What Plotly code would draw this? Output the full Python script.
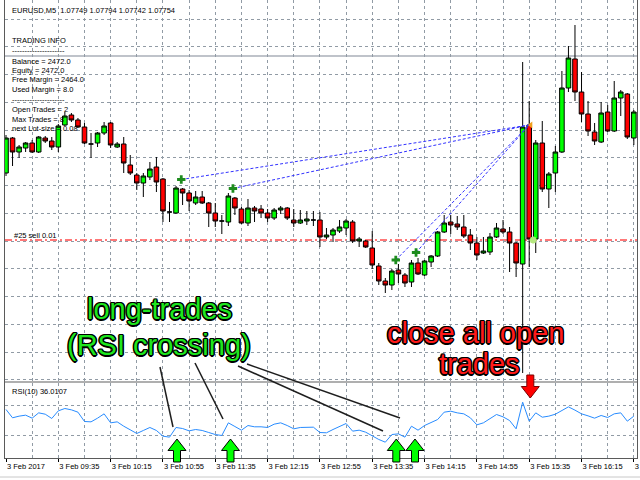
import plotly.graph_objects as go

# ---------------- data ----------------
time_labels = ["3 Feb 2017", "3 Feb 09:35", "3 Feb 10:15", "3 Feb 10:55", "3 Feb 11:35",
               "3 Feb 12:15", "3 Feb 12:55", "3 Feb 13:35", "3 Feb 14:15", "3 Feb 14:55",
               "3 Feb 15:35", "3 Feb 16:15", "3 Feb 16:55"]
label_bars = [0, 8, 16, 24, 32, 40, 48, 56, 64, 72, 80, 88, 96]

opens = [1.07654, 1.07724, 1.07696, 1.07704, 1.07714, 1.07696, 1.07724, 1.07718, 1.07706, 1.07750,
         1.07770, 1.07760, 1.07746, 1.07712, 1.07714, 1.07734, 1.07754, 1.07706, 1.07712, 1.07670,
         1.07650, 1.07634, 1.07646, 1.07666, 1.07642, 1.07576, 1.07574, 1.07622, 1.07614, 1.07594,
         1.07606, 1.07594, 1.07574, 1.07558, 1.07556, 1.07604, 1.07582, 1.07554, 1.07584, 1.07582,
         1.07574, 1.07564, 1.07580, 1.07584, 1.07560, 1.07554, 1.07558, 1.07560, 1.07560, 1.07526,
         1.07530, 1.07538, 1.07544, 1.07556, 1.07518, 1.07518, 1.07504, 1.07468, 1.07438, 1.07430,
         1.07460, 1.07450, 1.07436, 1.07474, 1.07450, 1.07476, 1.07488, 1.07536, 1.07556, 1.07552,
         1.07546, 1.07530, 1.07514, 1.07494, 1.07496, 1.07526, 1.07542, 1.07536, 1.07514, 1.07472,
         1.07750, 1.07522, 1.07714, 1.07622, 1.07654, 1.07696, 1.07824, 1.07882, 1.07816, 1.07772,
         1.07736, 1.07716, 1.07776, 1.07738, 1.07804, 1.07812, 1.07724]
highs = [1.07730, 1.07726, 1.07710, 1.07716, 1.07720, 1.07728, 1.07728, 1.07726, 1.07752, 1.07776,
         1.07774, 1.07764, 1.07754, 1.07734, 1.07736, 1.07756, 1.07756, 1.07716, 1.07726, 1.07690,
         1.07654, 1.07654, 1.07676, 1.07686, 1.07644, 1.07596, 1.07628, 1.07624, 1.07620, 1.07618,
         1.07618, 1.07596, 1.07594, 1.07570, 1.07614, 1.07606, 1.07586, 1.07602, 1.07588, 1.07590,
         1.07582, 1.07584, 1.07588, 1.07586, 1.07582, 1.07580, 1.07578, 1.07578, 1.07576, 1.07544,
         1.07544, 1.07560, 1.07562, 1.07560, 1.07526, 1.07520, 1.07538, 1.07474, 1.07444, 1.07462,
         1.07472, 1.07454, 1.07480, 1.07484, 1.07480, 1.07490, 1.07538, 1.07570, 1.07570, 1.07568,
         1.07570, 1.07542, 1.07526, 1.07526, 1.07534, 1.07554, 1.07560, 1.07546, 1.07516, 1.07876,
         1.07798, 1.07720, 1.07758, 1.07656, 1.07708, 1.07858, 1.07908, 1.07950, 1.07856, 1.07798,
         1.07754, 1.07796, 1.07790, 1.07838, 1.07820, 1.07814, 1.07780]
lows = [1.07648, 1.07668, 1.07684, 1.07696, 1.07694, 1.07694, 1.07714, 1.07700, 1.07696, 1.07748,
        1.07756, 1.07744, 1.07712, 1.07684, 1.07706, 1.07730, 1.07704, 1.07704, 1.07654, 1.07650,
        1.07620, 1.07606, 1.07640, 1.07616, 1.07556, 1.07556, 1.07572, 1.07590, 1.07578, 1.07590,
        1.07592, 1.07546, 1.07546, 1.07532, 1.07548, 1.07570, 1.07552, 1.07548, 1.07556, 1.07564,
        1.07556, 1.07560, 1.07572, 1.07560, 1.07546, 1.07552, 1.07550, 1.07548, 1.07506, 1.07522,
        1.07516, 1.07534, 1.07530, 1.07514, 1.07506, 1.07504, 1.07462, 1.07430, 1.07414, 1.07420,
        1.07434, 1.07426, 1.07426, 1.07450, 1.07448, 1.07466, 1.07486, 1.07534, 1.07532, 1.07540,
        1.07524, 1.07500, 1.07480, 1.07492, 1.07490, 1.07524, 1.07532, 1.07456, 1.07446, 1.07254,
        1.07466, 1.07494, 1.07616, 1.07584, 1.07616, 1.07694, 1.07816, 1.07798, 1.07756, 1.07728,
        1.07710, 1.07714, 1.07736, 1.07736, 1.07768, 1.07722, 1.07710]
closes = [1.07724, 1.07696, 1.07706, 1.07714, 1.07696, 1.07726, 1.07718, 1.07706, 1.07748, 1.07768,
          1.07760, 1.07746, 1.07714, 1.07712, 1.07734, 1.07748, 1.07710, 1.07712, 1.07674, 1.07654,
          1.07634, 1.07648, 1.07662, 1.07636, 1.07578, 1.07576, 1.07624, 1.07614, 1.07598, 1.07606,
          1.07594, 1.07574, 1.07558, 1.07558, 1.07608, 1.07584, 1.07554, 1.07584, 1.07578, 1.07574,
          1.07564, 1.07580, 1.07584, 1.07564, 1.07554, 1.07560, 1.07562, 1.07560, 1.07526, 1.07530,
          1.07540, 1.07546, 1.07558, 1.07518, 1.07522, 1.07506, 1.07470, 1.07438, 1.07430, 1.07458,
          1.07452, 1.07434, 1.07474, 1.07452, 1.07478, 1.07488, 1.07536, 1.07554, 1.07550, 1.07546,
          1.07528, 1.07514, 1.07490, 1.07498, 1.07526, 1.07544, 1.07536, 1.07514, 1.07474, 1.07746,
          1.07522, 1.07714, 1.07622, 1.07652, 1.07696, 1.07824, 1.07884, 1.07816, 1.07772, 1.07738,
          1.07718, 1.07774, 1.07738, 1.07804, 1.07816, 1.07726, 1.07776]
rsi = [64.7, 53.6, 55.8, 57.1, 53.1, 60.2, 58.4, 52.7, 62.9, 66.0,
       64.2, 61.1, 48.7, 48.2, 53.1, 58.9, 46.9, 48.2, 42.4, 38.0,
       32.7, 36.7, 40.7, 36.7, 29.1, 27.8, 40.7, 39.3, 36.2, 38.0,
       36.7, 34.0, 31.3, 30.0, 46.9, 42.0, 37.1, 43.3, 41.6, 41.6,
       40.7, 45.1, 46.9, 43.3, 38.9, 40.7, 41.1, 41.1, 34.0, 33.6,
       38.0, 41.6, 46.0, 35.8, 37.1, 34.4, 29.1, 24.7, 21.1, 31.3,
       32.2, 27.8, 42.4, 37.1, 43.3, 46.9, 51.3, 61.1, 62.4, 60.2,
       58.9, 53.6, 44.2, 46.9, 52.2, 58.0, 54.9, 50.0, 38.9, 74.4,
       49.1, 60.2, 54.4, 55.8, 58.4, 62.9, 68.2, 63.8, 58.9, 56.2,
       53.1, 56.7, 54.0, 58.9, 60.2, 49.1, 55.8]
bar_index = list(range(len(opens)))

# trades: buy entries (bar, price) and common close point
buy_bars = [26.8, 34.7, 59.6, 62.7]
buy_prices = [1.07641, 1.07623, 1.07480, 1.07495]
close_bar = 80.0
close_price = 1.07750
sell_price = 1.07520
sell_mark_bar = 80.6
bid_price = 1.07888

info_lines = ["EURUSD,M5  1.07749 1.07794 1.07742 1.07754", "TRADING INFO", "-" * 21,
              "Balance = 2472.0", "Equity = 2472.0", "Free Margin = 2464.0", "Used Margin = 8.0",
              "-" * 21, "Open Trades = 2", "Max Trades = 8", "next Lot-size = 0.08"]
info_y = [10, 40.5, 50.5, 61, 70.5, 80, 89.5, 99.5, 109.5, 119, 128.5]

# ---------------- layout helpers ----------------
W, H = 640, 480
ML, MR, MT, MB = 5, 3, 0, 22
PW = W - ML - MR
PH = H - MT - MB


def fx(px):
    return (px - ML) / PW


def fy(py):
    return (PH + MT - py) / PH


FONT = "Liberation Sans"
GRID = "rgb(145,155,165)"
outline = ("1.5px 0 0 #000, -1.5px 0 0 #000, 0 1.5px 0 #000, 0 -1.5px 0 #000, "
           "1px 1px 0 #000, -1px -1px 0 #000, 1px -1px 0 #000, -1px 1px 0 #000")

fig = go.Figure()

fig.add_trace(go.Candlestick(
    x=bar_index, open=opens, high=highs, low=lows, close=closes,
    increasing=dict(fillcolor="#00FF00", line=dict(color="black", width=1)),
    decreasing=dict(fillcolor="#FF0000", line=dict(color="black", width=1)),
    whiskerwidth=0, xaxis="x", yaxis="y", showlegend=False, hoverinfo="skip"))

for b, p in zip(buy_bars, buy_prices):
    fig.add_trace(go.Scatter(x=[b, close_bar], y=[p, close_price], mode="lines",
                             line=dict(color="rgb(50,50,255)", width=1, dash="3px,2px"),
                             xaxis="x", yaxis="y", showlegend=False, hoverinfo="skip"))

fig.add_trace(go.Scatter(x=buy_bars, y=buy_prices, mode="markers",
                         marker=dict(symbol="cross", size=7, color="rgb(30,140,30)"),
                         xaxis="x", yaxis="y", showlegend=False, hoverinfo="skip"))
fig.add_trace(go.Scatter(x=[close_bar + 0.25], y=[close_price], mode="markers",
                         marker=dict(symbol="triangle-left", size=6, color="rgb(240,160,30)"),
                         xaxis="x", yaxis="y", showlegend=False, hoverinfo="skip"))
fig.add_trace(go.Scatter(x=[sell_mark_bar], y=[sell_price], mode="markers",
                         marker=dict(symbol="asterisk-open", size=6,
                                     line=dict(color="red", width=2)),
                         xaxis="x", yaxis="y", showlegend=False, hoverinfo="skip"))

fig.add_trace(go.Scatter(x=bar_index, y=rsi, mode="lines",
                         line=dict(color="rgb(40,140,255)", width=1),
                         xaxis="x2", yaxis="y2", showlegend=False, hoverinfo="skip"))

xr = [(ML + 0 - 6) / 6.54, (ML + PW - 6) / 6.54]

common_x = dict(range=xr, showgrid=True, gridcolor=GRID, griddash="3px,3px", gridwidth=1,
                zeroline=False, showline=True, linecolor="rgb(90,90,90)", linewidth=1,
                mirror=True, fixedrange=True, automargin=False)

fig.update_layout(
    width=W, height=H, margin=dict(l=ML, r=MR, t=MT, b=MB, autoexpand=False),
    paper_bgcolor="white", plot_bgcolor="white",
    boxgap=0.3, boxgroupgap=0,
    font=dict(family=FONT, size=8, color="black"),
    xaxis=dict(**common_x, anchor="y", tickmode="linear", tick0=0, dtick=4,
               showticklabels=False, ticks="", rangeslider=dict(visible=False)),
    yaxis=dict(domain=[fy(381), 1], range=[1.07238, 1.08000], tickmode="linear",
               tick0=1.07518, dtick=0.000555, showticklabels=False, ticks="",
               showgrid=True, gridcolor=GRID, griddash="3px,3px", zeroline=False,
               showline=True, linecolor="rgb(90,90,90)", mirror=True, fixedrange=True,
               automargin=False),
    xaxis2=dict(**common_x, anchor="y2", tickmode="array", tickvals=label_bars,
                ticktext=time_labels, ticks="outside", ticklen=3, tickcolor="black",
                ticklabelposition="outside right", ticklabeloverflow="allow",
                ticklabelstandoff=1,
                tickfont=dict(family=FONT, size=7.5, color="black"),
                minor=dict(tickmode="linear", tick0=0, dtick=4, showgrid=True,
                           gridcolor=GRID, griddash="3px,3px", ticks="")),
    yaxis2=dict(domain=[0, fy(383)], range=[0, 100], tickvals=[30, 70],
                showticklabels=False, ticks="", showgrid=True, gridcolor=GRID,
                griddash="3px,3px", zeroline=False, showline=True,
                linecolor="rgb(90,90,90)", mirror=True, fixedrange=True,
                automargin=False),
)

shapes = []
# panel separator band
shapes.append(dict(type="rect", xref="paper", yref="paper", x0=fx(ML), x1=fx(ML + PW),
                   y0=fy(383), y1=fy(381), fillcolor="rgb(175,175,175)",
                   line=dict(width=0), layer="above"))
# window bottom line
shapes.append(dict(type="line", xref="paper", yref="paper", x0=fx(0), x1=fx(640),
                   y0=fy(477), y1=fy(477), line=dict(color="rgb(200,200,200)", width=1)))
# bid line and sell order line
shapes.append(dict(type="line", xref="paper", yref="y", x0=0, x1=1, y0=bid_price, y1=bid_price,
                   line=dict(color="rgb(170,175,185)", width=1.5), layer="below"))
shapes.append(dict(type="line", xref="paper", yref="y", x0=0, x1=1, y0=sell_price, y1=sell_price,
                   line=dict(color="rgb(255,120,120)", width=2, dash="7px,3px,2px,3px"),
                   layer="below"))
# pointer lines from the label to the RSI crossings
pointers = [((160, 367), (173, 427)), ((195, 363), (223, 419)),
            ((238, 366), (383, 431)), ((247, 364), (400, 418))]
for (a, b) in pointers:
    shapes.append(dict(type="line", xref="paper", yref="paper", x0=fx(a[0]), y0=fy(a[1]),
                       x1=fx(b[0]), y1=fy(b[1]), line=dict(color="rgb(30,30,30)", width=1.5),
                       layer="above"))


def arrow_path(cx, tip, tail, up=True):
    s = 1 if up else -1
    hw, sw, hh = 9, 3.5, 11.5
    pts = [(cx, tip), (cx + hw, tip + s * hh), (cx + sw, tip + s * hh), (cx + sw, tail),
           (cx - sw, tail), (cx - sw, tip + s * hh), (cx - hw, tip + s * hh)]
    return "M " + " L ".join(f"{fx(x):.5f},{fy(y):.5f}" for x, y in pts) + " Z"


for cx in [177, 230.5, 396.3, 415]:
    shapes.append(dict(type="path", xref="paper", yref="paper", path=arrow_path(cx, 439, 462),
                       fillcolor="#00FF00", line=dict(color="black", width=1), layer="above"))
shapes.append(dict(type="path", xref="paper", yref="paper",
                   path=arrow_path(530.3, 398, 375, up=False),
                   fillcolor="#FF0000", line=dict(color="rgb(120,0,0)", width=1), layer="above"))
fig.update_layout(shapes=shapes)

ann = []
for t, yy in zip(info_lines, info_y):
    ann.append(dict(text=t, xref="paper", yref="paper", x=fx(10), y=fy(yy), xanchor="left",
                    yanchor="middle", showarrow=False, font=dict(family=FONT, size=7.5, color="black")))
ann.append(dict(text="#25 sell 0.01", xref="paper", yref="paper", x=fx(11.5), y=fy(235.5),
                xanchor="left", yanchor="middle", showarrow=False,
                font=dict(family=FONT, size=7.5, color="black")))
ann.append(dict(text="RSI(10) 36.0107", xref="paper", yref="paper", x=fx(9.5), y=fy(391.5),
                xanchor="left", yanchor="middle", showarrow=False,
                font=dict(family=FONT, size=7.5, color="black")))
big = [("long-trades", 159, 309, "#1EE61E"), ("(RSI crossing)", 159, 345, "#1EE61E"),
       ("close all open", 475, 333, "#FF1A1A"), ("trades", 479, 364, "#FF1A1A")]
for t, x, y, c in big:
    ann.append(dict(text=t, xref="paper", yref="paper", x=fx(x), y=fy(y), xanchor="center",
                    yanchor="middle", showarrow=False,
                    font=dict(family=FONT, size=29, color=c, shadow=outline)))
fig.update_layout(annotations=ann)

fig.write_html("out.html", config={"displayModeBar": False, "staticPlot": True},
               post_script="document.body.style.margin='0px';document.body.style.overflow='hidden';")
